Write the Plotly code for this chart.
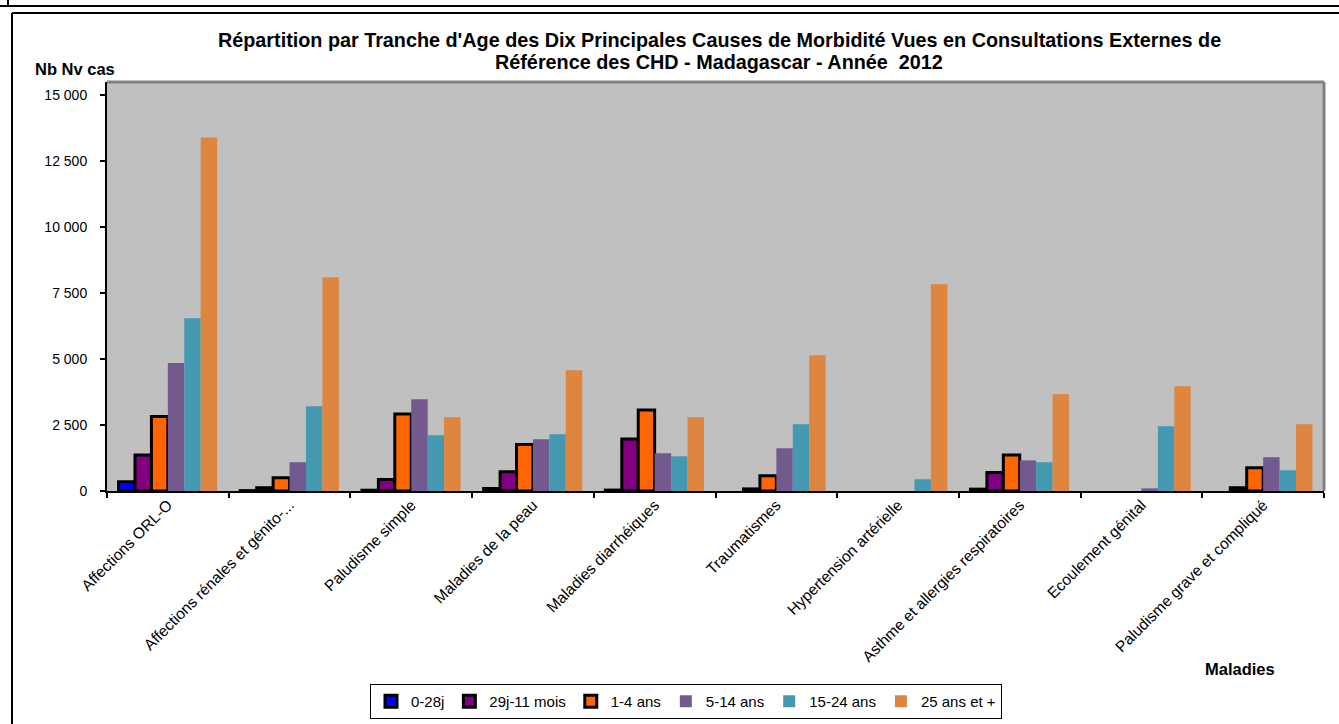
import plotly.graph_objects as go

categories = [
    "Affections ORL-O",
    "Affections rénales et génito-...",
    "Paludisme simple",
    "Maladies de la peau",
    "Maladies diarrhéiques",
    "Traumatismes",
    "Hypertension artérielle",
    "Asthme et allergies respiratoires",
    "Ecoulement génital",
    "Paludisme grave et compliqué",
]

series_names = ["0-28j", "29j-11 mois", "1-4 ans", "5-14 ans", "15-24 ans", "25 ans et +"]

v_0_28j = [350, 15, 30, 95, 35, 0, 0, 70, 0, 0]
v_29j_11m = [1360, 120, 440, 730, 1970, 80, 0, 700, 0, 120]
v_1_4 = [2820, 500, 2915, 1760, 3070, 580, 0, 1360, 0, 880]
v_5_14 = [4850, 1090, 3480, 1960, 1430, 1620, 0, 1160, 100, 1280]
v_15_24 = [6550, 3210, 2110, 2150, 1315, 2530, 445, 1090, 2455, 785]
v_25p = [13400, 8100, 2795, 4580, 2795, 5145, 7835, 3665, 3970, 2530]

series_values = [v_0_28j, v_29j_11m, v_1_4, v_5_14, v_15_24, v_25p]
colors = ["#0000FF", "#800080", "#FF6600", "#725A8F", "#4499B1", "#DE853F"]
outlined = [True, True, True, False, False, False]

y_tickvals = [0, 2500, 5000, 7500, 10000, 12500, 15000]
y_ticktext = ["0", "2 500", "5 000", "7 500", "10 000", "12 500", "15 000"]

title_line1 = "Répartition par Tranche d'Age des Dix Principales Causes de Morbidité Vues en Consultations Externes de"
title_line2 = "Référence des CHD - Madagascar - Année  2012"

FONT = "Liberation Sans, Arial, sans-serif"

# plot-area geometry in pixels
W, H = 1339, 724
L, R, T, B = 107, 15, 82, 233
PW = W - L - R
PH = H - T - B


def px(x):
    return (x - L) / PW


def py(y):
    return (H - B - y) / PH


fig = go.Figure()
for name, vals, col, ol in zip(series_names, series_values, colors, outlined):
    fig.add_trace(go.Bar(
        name=name,
        x=categories,
        # a value of 0 draws no bar (no outline either), as in the original
        y=[v if v != 0 else None for v in vals],
        marker=dict(
            color=col,
            line=dict(color="black", width=3 if ol else 0),
        ),
    ))

shapes = [
    dict(type="line", xref="paper", yref="paper", x0=0, x1=1, y0=1, y1=1,
         line=dict(color="#808080", width=3)),
    dict(type="line", xref="paper", yref="paper", x0=1, x1=1, y0=0, y1=1,
         line=dict(color="#808080", width=3)),
    dict(type="line", xref="paper", yref="paper", x0=px(12), x1=px(1345), y0=py(13), y1=py(13),
         line=dict(color="black", width=2)),
    dict(type="line", xref="paper", yref="paper", x0=px(12), x1=px(12), y0=py(13), y1=py(730),
         line=dict(color="black", width=2)),
    dict(type="line", xref="paper", yref="paper", x0=px(-5), x1=px(1345), y0=py(6), y1=py(6),
         line=dict(color="black", width=2)),
    dict(type="line", xref="paper", yref="paper", x0=px(8), x1=px(8), y0=py(-5), y1=py(6),
         line=dict(color="black", width=2)),
]

annotations = [
    dict(text="<b>" + title_line1 + "</b>", xref="paper", yref="paper", x=px(719), y=py(40),
         xanchor="center", yanchor="middle", showarrow=False,
         font=dict(family=FONT, size=19.8, color="black")),
    dict(text="<b>" + title_line2 + "</b>", xref="paper", yref="paper", x=px(719), y=py(62),
         xanchor="center", yanchor="middle", showarrow=False,
         font=dict(family=FONT, size=19.8, color="black")),
    dict(text="<b>Nb Nv cas</b>", xref="paper", yref="paper", x=px(33), y=py(69),
         xanchor="left", yanchor="middle", showarrow=False,
         font=dict(family=FONT, size=16.5, color="black")),
    dict(text="<b>Maladies</b>", xref="paper", yref="paper", x=px(1240), y=py(669),
         xanchor="center", yanchor="middle", showarrow=False,
         font=dict(family=FONT, size=16.5, color="black")),
]

fig.update_layout(
    width=W, height=H,
    margin=dict(l=L, r=R, t=T, b=B, pad=0, autoexpand=False),
    paper_bgcolor="white",
    plot_bgcolor="#C0C0C0",
    barmode="group",
    bargap=0.19,
    bargroupgap=0,
    font=dict(family=FONT, size=14, color="black"),
    xaxis=dict(
        type="category",
        showline=True, linecolor="black", linewidth=2,
        ticks="outside", tickson="boundaries", ticklen=5, tickwidth=2, tickcolor="black",
        tickangle=-45,
        ticklabelstandoff=-3,
        tickfont=dict(family=FONT, size=15.5, color="black"),
        showgrid=False,
    ),
    yaxis=dict(
        range=[0, 15500],
        tickvals=y_tickvals, ticktext=y_ticktext,
        showline=True, linecolor="black", linewidth=2,
        ticks="outside", ticklen=5, tickwidth=2, tickcolor="black",
        ticklabelstandoff=10,
        tickfont=dict(family=FONT, size=14, color="black"),
        showgrid=False, zeroline=False,
    ),
    legend=dict(
        orientation="h",
        xref="container", yref="container",
        x=686 / W, xanchor="center",
        y=1 - 684 / H, yanchor="top",
        bgcolor="white", bordercolor="black", borderwidth=1,
        font=dict(family=FONT, size=15, color="black"),
        itemwidth=30,
        traceorder="normal",
    ),
    shapes=shapes,
    annotations=annotations,
)

fig.write_html("out.html", config={"displayModeBar": False},
               post_script="document.body.style.margin='0';")
